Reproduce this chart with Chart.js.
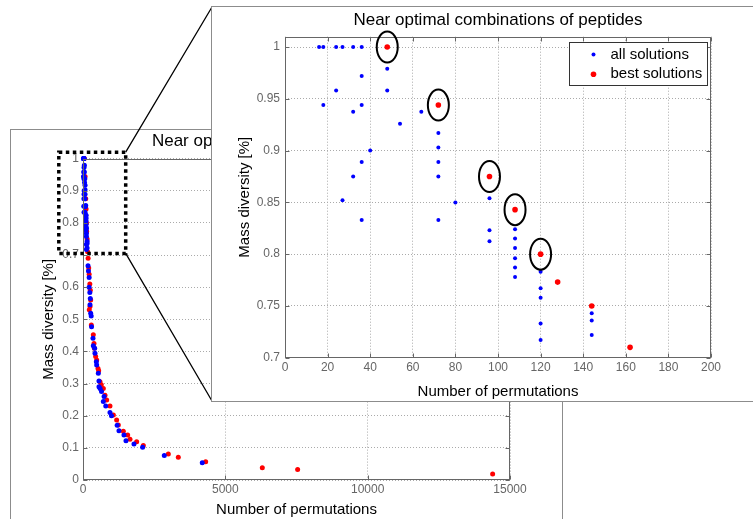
<!DOCTYPE html>
<html>
<head>
<meta charset="utf-8">
<title>Near optimal combinations of peptides</title>
<script src="https://cdn.jsdelivr.net/npm/chart.js@4.4.1/dist/chart.umd.min.js"></script>
<style>
    html, body { margin: 0; padding: 0; background: #fff; }
    body { position: relative; width: 753px; height: 519px; overflow: hidden; }
    #frame { position: absolute; left: 10px; top: 129px; width: 551px; height: 400px; border: 1px solid #8c8c8c; }
    #mainCanvas { position: absolute; left: 0; top: 0; }
    #insetWrap { position: absolute; left: 211px; top: 6px; width: 541px; height: 394px; border: 1px solid #8c8c8c; background: #fff; }
    #insetCanvas { display: block; }
</style>
</head>
<body>
<div id="frame"></div>
<canvas id="mainCanvas" width="753" height="519"></canvas>
<div id="insetWrap"><canvas id="insetCanvas" width="541" height="394"></canvas></div>

<script>
    // all solutions (blue), range shown in the zoomed inset
    var allX = [16, 18, 24, 27, 32, 36, 48, 36, 24, 48, 18, 36, 32, 64, 54, 72, 72, 40, 36, 72, 32, 72,
                96, 27, 80, 36, 72, 108, 96, 108, 96, 108, 108, 108, 120, 108, 120, 120, 144, 144, 120, 144, 120];
    var allY = [1, 1, 1, 1, 1, 1, 0.979, 0.972, 0.958, 0.958, 0.944, 0.944, 0.9375, 0.9375, 0.926, 0.917, 0.903, 0.9, 0.889, 0.889, 0.875, 0.875,
                0.854, 0.852, 0.85, 0.833, 0.833, 0.824, 0.823, 0.815, 0.8125, 0.806, 0.796, 0.787, 0.783, 0.778, 0.767, 0.758, 0.743, 0.736, 0.733, 0.722, 0.717];

    // best solutions (red)
    var bestX = [48, 72, 96, 108, 120, 128, 144, 162];
    var bestY = [1, 0.944, 0.875, 0.843, 0.8, 0.773, 0.75, 0.71];

    // the rest of the curve, only visible in the full plot
    var tailAllX = [176, 192, 216, 216, 240, 256, 246, 270, 288, 300, 351, 362, 410, 421, 468, 480, 538, 560, 562, 600, 650,
                    740, 714, 800, 948, 1000, 1200, 1264, 1440, 1510, 1791, 2094, 2856, 4190];
    var tailAllY = [0.667, 0.65, 0.63, 0.6, 0.583, 0.565, 0.545, 0.519, 0.51, 0.477, 0.441, 0.418, 0.41, 0.394, 0.368, 0.358, 0.332, 0.308, 0.29, 0.285, 0.275,
                    0.26, 0.244, 0.23, 0.21, 0.2, 0.17, 0.153, 0.14, 0.122, 0.112, 0.102, 0.076, 0.054];
    var tailBestX = [180, 200, 216, 240, 256, 270, 221, 246, 293, 362, 386, 400, 445, 480, 527, 550, 597, 643, 714, 773, 832,
                     948, 1066, 1182, 1241, 1417, 1569, 1651, 1885, 2119, 2997, 3348, 4309, 6299, 7540, 14390];
    var tailBestY = [0.69, 0.66, 0.64, 0.61, 0.59, 0.56, 0.53, 0.54, 0.482, 0.452, 0.425, 0.41, 0.384, 0.373, 0.347, 0.34, 0.306, 0.296, 0.285, 0.264, 0.249,
                     0.23, 0.202, 0.187, 0.171, 0.152, 0.14, 0.127, 0.119, 0.107, 0.081, 0.071, 0.057, 0.038, 0.033, 0.019];

    // circled best points in the inset (indexes into bestX/bestY)
    var circled = [0, 1, 2, 3, 4];

    // dotted zoom box on the full plot, in data units
    var zoomBox = { xMin: -850, xMax: 1500, yMin: 0.705, yMax: 1.02 };

    var TITLE = 'Near optimal combinations of peptides';
    var XLABEL = 'Number of permutations';
    var YLABEL = 'Mass diversity [%]';
    var BLUE = '#0000ff';
    var RED = '#ff0000';

    Chart.defaults.font.family = '"Liberation Sans", Arial, sans-serif';
    Chart.defaults.font.size = 12;
    Chart.defaults.color = '#666';

    function toPoints(xs, ys) {
        return xs.map(function (x, i) { return { x: x, y: ys[i] }; });
    }

    function fmt(v) {
        return String(Math.round(v * 1000) / 1000);
    }

    // matlab style axes box with inward ticks
    var boxPlugin = {
        id: 'matlabBox',
        afterDatasetsDraw: function (chart) {
            var ctx = chart.ctx, a = chart.chartArea;
            var xs = chart.scales.x, ys = chart.scales.y;
            var L = Math.round(a.left) + 0.5, R = Math.round(a.right) - 0.5;
            var T = Math.round(a.top) + 0.5, B = Math.round(a.bottom) - 0.5;
            ctx.save();
            ctx.strokeStyle = '#666';
            ctx.lineWidth = 1;
            ctx.beginPath();
            xs.ticks.forEach(function (t) {
                var px = Math.round(xs.getPixelForValue(t.value)) + 0.5;
                ctx.moveTo(px, B); ctx.lineTo(px, B - 4);
                ctx.moveTo(px, T); ctx.lineTo(px, T + 4);
            });
            ys.ticks.forEach(function (t) {
                var py = Math.round(ys.getPixelForValue(t.value)) + 0.5;
                ctx.moveTo(L, py); ctx.lineTo(L + 4, py);
                ctx.moveTo(R, py); ctx.lineTo(R - 4, py);
            });
            ctx.stroke();
            ctx.strokeRect(L, T, R - L, B - T);
            ctx.restore();
        }
    };

    // zoom box and the two lines to the inset corners
    var zoomPlugin = {
        id: 'zoomBox',
        afterDraw: function (chart) {
            var ctx = chart.ctx;
            var xs = chart.scales.x, ys = chart.scales.y;
            var x0 = xs.getPixelForValue(zoomBox.xMin), x1 = xs.getPixelForValue(zoomBox.xMax);
            var y0 = ys.getPixelForValue(zoomBox.yMax), y1 = ys.getPixelForValue(zoomBox.yMin);
            var wrap = document.getElementById('insetWrap');
            var ix = wrap.offsetLeft + 1, iy0 = wrap.offsetTop + 1, iy1 = wrap.offsetTop + wrap.offsetHeight - 1;
            ctx.save();
            ctx.strokeStyle = '#000';
            ctx.lineWidth = 1.3;
            ctx.beginPath();
            ctx.moveTo(x1, y0); ctx.lineTo(ix, iy0);
            ctx.moveTo(x1, y1); ctx.lineTo(ix, iy1);
            ctx.stroke();
            ctx.lineWidth = 3.5;
            ctx.setLineDash([3.5, 3.5]);
            ctx.strokeRect(x0, y0, x1 - x0, y1 - y0);
            ctx.restore();
        }
    };

    // ellipses round the chosen best points, and the legend box
    var insetPlugin = {
        id: 'insetExtras',
        afterDraw: function (chart) {
            var ctx = chart.ctx, a = chart.chartArea;
            var xs = chart.scales.x, ys = chart.scales.y;
            ctx.save();
            ctx.strokeStyle = '#000';
            ctx.lineWidth = 2;
            circled.forEach(function (i) {
                ctx.beginPath();
                ctx.ellipse(xs.getPixelForValue(bestX[i]), ys.getPixelForValue(bestY[i]), 10.5, 15.5, 0, 0, Math.PI * 2);
                ctx.stroke();
            });

            var w = 138, h = 43;
            var lx = Math.round(a.right - 4 - w) + 0.5, ly = Math.round(a.top + 5) + 0.5;
            ctx.fillStyle = '#fff';
            ctx.fillRect(lx, ly, w, h);
            ctx.lineWidth = 1;
            ctx.strokeStyle = '#333';
            ctx.strokeRect(lx, ly, w, h);
            var items = [
                { text: 'all solutions', color: BLUE, r: 2 },
                { text: 'best solutions', color: RED, r: 2.8 }
            ];
            ctx.font = '15px "Liberation Sans", Arial, sans-serif';
            ctx.textBaseline = 'middle';
            items.forEach(function (it, k) {
                var cy = ly + 12 + k * 19.7;
                ctx.fillStyle = it.color;
                ctx.beginPath();
                ctx.arc(lx + 24, cy, it.r, 0, Math.PI * 2);
                ctx.fill();
                ctx.fillStyle = '#000';
                ctx.fillText(it.text, lx + 41, cy);
            });
            ctx.restore();
        }
    };

    function scales(opt) {
        return {
            x: {
                type: 'linear',
                min: opt.xMin, max: opt.xMax,
                grid: { color: '#aaa', drawTicks: false },
                border: { display: false, dash: [1, 2] },
                ticks: { stepSize: opt.xStep, padding: opt.xTickPad, maxRotation: 0, callback: fmt },
                title: { display: true, text: XLABEL, color: '#000', font: { size: 15 }, padding: { top: opt.xTitlePad, bottom: 0 } },
                afterFit: function (s) { s.height = opt.xHeight; }
            },
            y: {
                type: 'linear',
                min: opt.yMin, max: opt.yMax,
                grid: { color: '#aaa', drawTicks: false },
                border: { display: false, dash: [1, 2] },
                ticks: { stepSize: opt.yStep, padding: opt.yTickPad, includeBounds: false, callback: fmt },
                title: { display: true, text: YLABEL, color: '#000', font: { size: 15 }, padding: { top: opt.yTitlePad, bottom: 0 } },
                afterFit: function (s) { s.width = opt.yWidth; }
            }
        };
    }

    // full plot
    new Chart(document.getElementById('mainCanvas'), {
        type: 'scatter',
        data: {
            datasets: [{
                label: 'all solutions',
                data: toPoints(allX.concat(tailAllX), allY.concat(tailAllY)),
                backgroundColor: BLUE, borderWidth: 0, pointRadius: 2.5, clip: 6
            }, {
                label: 'best solutions',
                data: toPoints(bestX.concat(tailBestX), bestY.concat(tailBestY)),
                backgroundColor: RED, borderWidth: 0, pointRadius: 2.5, clip: 6
            }]
        },
        options: {
            responsive: false,
            animation: false,
            events: [],
            layout: { padding: { left: 11, top: 130, right: 243, bottom: 0 } },
            plugins: {
                legend: { display: false },
                tooltip: { enabled: false },
                title: {
                    display: true, text: TITLE, color: '#000', fullSize: false,
                    font: { size: 17, weight: 'normal' }, padding: { top: 1.5, bottom: 6.7 }
                }
            },
            scales: scales({
                xMin: 0, xMax: 15000, xStep: 5000, xTickPad: 2.3, xTitlePad: 3.5, xHeight: 39,
                yMin: 0, yMax: 1, yStep: 0.1, yTickPad: 4, yTitlePad: 29.3, yWidth: 72
            })
        },
        plugins: [boxPlugin, zoomPlugin]
    });

    // zoomed inset
    new Chart(document.getElementById('insetCanvas'), {
        type: 'scatter',
        data: {
            datasets: [{
                label: 'all solutions',
                data: toPoints(allX, allY),
                backgroundColor: BLUE, borderWidth: 0, pointRadius: 2, clip: 6
            }, {
                label: 'best solutions',
                data: toPoints(bestX, bestY),
                backgroundColor: RED, borderWidth: 0, pointRadius: 2.8, clip: 6
            }]
        },
        options: {
            responsive: false,
            animation: false,
            events: [],
            layout: { padding: { left: 0, top: 0, right: 42, bottom: 0 } },
            plugins: {
                legend: { display: false },
                tooltip: { enabled: false },
                title: {
                    display: true, text: TITLE, color: '#000', fullSize: false,
                    font: { size: 17, weight: 'normal' }, padding: { top: 3.6, bottom: 5.7 }
                }
            },
            scales: scales({
                xMin: 0, xMax: 200, xStep: 20, xTickPad: 3, xTitlePad: 7.3, xHeight: 43.3,
                yMin: 0.7, yMax: 1.01, yStep: 0.05, yTickPad: 5, yTitlePad: 23.7, yWidth: 73
            })
        },
        plugins: [boxPlugin, insetPlugin]
    });
</script>
</body>
</html>
